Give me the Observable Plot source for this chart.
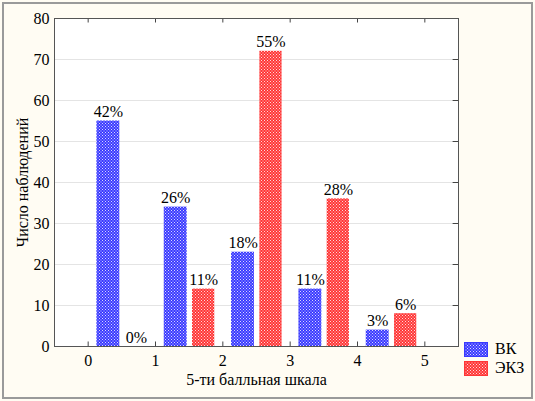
<!DOCTYPE html>
<html>
<head>
<meta charset="utf-8">
<script src="https://cdn.jsdelivr.net/npm/d3@7"></script>
<script src="https://cdn.jsdelivr.net/npm/@observablehq/plot@0.6"></script>
<style>
  body { margin: 0; background: #fffcf3; }
  #wrap { position: relative; width: 535px; height: 401px; }
  #wrap svg.plot-chart { display: block; outline: 2px solid #9a9a9a; outline-offset: -4px; }
  .leg { position: absolute; left: 464px; font-family: "Liberation Serif", "DejaVu Serif", serif; font-size: 16px; color: #000; display: flex; align-items: center; }
  .leg svg { margin-right: 7px; }
</style>
</head>
<body>
<div id="wrap"></div>
<script>
const grades = [0, 1, 2, 3, 4];
const vkValues = [55, 34, 23, 14, 4];
const ekzValues = [0, 14, 72, 36, 8];
const vkLabels = ["42%", "26%", "18%", "11%", "3%"];
const ekzLabels = ["0%", "11%", "55%", "28%", "6%"];
const seriesNames = ["ВК", "ЭКЗ"];
const xTicks = [0, 1, 2, 3, 4, 5];
const yTicks = [0, 10, 20, 30, 40, 50, 60, 70, 80];

// layout of the bar pair inside each unit interval
const blueSpan = [0.13, 0.47];
const redSpan = [0.55, 0.88];

const vk = grades.map((g, i) => ({grade: g, value: vkValues[i], label: vkLabels[i]}));
const ekz = grades.map((g, i) => ({grade: g, value: ekzValues[i], label: ekzLabels[i]}));

const serif = "'Liberation Serif', 'DejaVu Serif', serif";

const chart = Plot.plot({
  width: 535,
  height: 401,
  marginLeft: 54,
  marginTop: 18,
  marginRight: 77,
  marginBottom: 55,
  className: "plot-chart",
  style: {fontFamily: serif, fontSize: "15px", background: "#fffcf3", color: "#000"},
  x: {domain: [-0.5, 5.5], ticks: xTicks, tickFormat: d3.format("d")},
  y: {domain: [0, 80], ticks: yTicks},
  marks: [
    Plot.frame({fill: "white", stroke: "none"}),
    Plot.gridY(yTicks, {stroke: "#e4e4e4", strokeOpacity: 1}),
    Plot.rectY(vk, {x1: d => d.grade + blueSpan[0], x2: d => d.grade + blueSpan[1], y: "value", fill: "url(#patBlue)"}),
    Plot.rectY(ekz, {x1: d => d.grade + redSpan[0], x2: d => d.grade + redSpan[1], y: "value", fill: "url(#patRed)"}),
    Plot.text(vk, {x: d => d.grade + (blueSpan[0] + blueSpan[1]) / 2, y: "value", text: "label", dy: -9, fontSize: 16, fontFamily: serif}),
    Plot.text(ekz, {x: d => d.grade + (redSpan[0] + redSpan[1]) / 2, y: "value", text: "label", dy: -9, fontSize: 16, fontFamily: serif}),
    Plot.ruleX(xTicks, {y1: 0, y2: 1.1, stroke: "#444"}),
    Plot.ruleX(xTicks, {y1: 78.9, y2: 80, stroke: "#444"}),
    Plot.ruleY(yTicks, {x1: 5.42, x2: 5.5, stroke: "#444"}),
    Plot.axisX({ticks: xTicks, tickFormat: d3.format("d"), tickSize: 0, tickPadding: 8, label: "5-ти балльная шкала", labelAnchor: "center", labelArrow: "none", labelOffset: 38, fontSize: 16, fontFamily: serif}),
    Plot.axisY({ticks: yTicks, tickSize: 0, tickPadding: 5, label: "Число наблюдений", labelAnchor: "center", labelArrow: "none", labelOffset: 38, fontSize: 16, fontFamily: serif}),
    Plot.frame({stroke: "#555"})
  ]
});

// hatch patterns
const ns = "http://www.w3.org/2000/svg";
const defs = document.createElementNS(ns, "defs");
defs.innerHTML = `
  <pattern id="patBlue" x="0" y="0" width="3" height="3" patternUnits="userSpaceOnUse">
    <rect x="0" y="0" width="3" height="3" fill="#3a3aff"/>
    <rect x="0" y="0" width="1" height="1" fill="#d8d8ff"/>
    <rect x="1.5" y="1.5" width="1" height="1" fill="#d8d8ff"/>
  </pattern>
  <pattern id="patRed" x="0" y="0" width="3" height="3" patternUnits="userSpaceOnUse">
    <rect x="0" y="0" width="3" height="3" fill="#ff3636"/>
    <rect x="0" y="0" width="1" height="1" fill="#ffdada"/>
    <rect x="1.5" y="1.5" width="1" height="1" fill="#ffdada"/>
  </pattern>`;
chart.insertBefore(defs, chart.firstChild);

const wrap = document.getElementById("wrap");
wrap.appendChild(chart);

// legend
const patIds = ["patBlue", "patRed"];
const legTops = [340, 359];
seriesNames.forEach((name, i) => {
  const div = document.createElement("div");
  div.className = "leg";
  div.style.top = legTops[i] + "px";
  div.innerHTML = `<svg width="24" height="15"><rect x="0.5" y="0.5" width="23" height="14" fill="url(#${patIds[i]})" stroke="${i ? '#ff3636' : '#3a3aff'}"/></svg><span>${name}</span>`;
  wrap.appendChild(div);
});
</script>
</body>
</html>
